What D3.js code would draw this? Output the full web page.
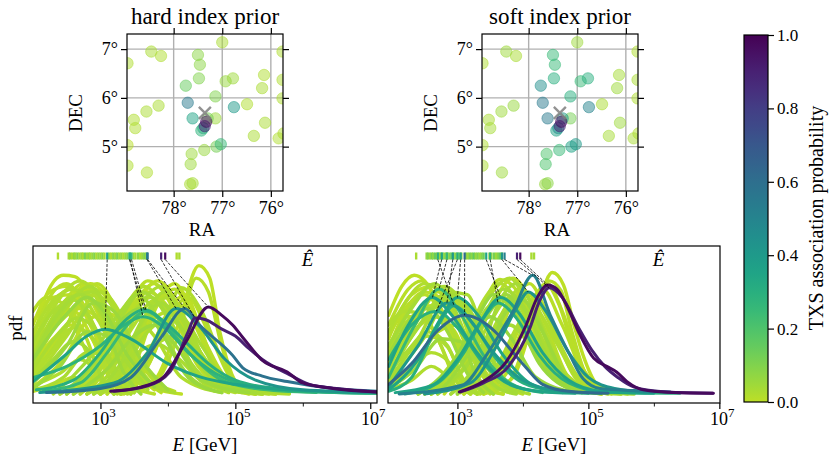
<!DOCTYPE html>
<html>
<head>
<meta charset="utf-8">
<script src="https://cdn.jsdelivr.net/npm/d3@7"></script>
<style>
body { margin: 0; background: #fff; }
svg text { font-family: "Liberation Serif", "DejaVu Serif", serif; fill: #000; }
</style>
</head>
<body>
<svg id="chart" width="832" height="459"></svg>
<script>
// ---- sky maps (RA / DEC in degrees) ----
var raTicks = [78, 77, 76];
var decTicks = [5, 6, 7];
var txsPos = [77.358, 5.693];

var srcRA = [78.95, 78.46, 78.26, 77.50, 77.46, 77.00, 75.76, 77.48, 77.75, 76.93, 76.78,
    76.14, 76.18, 75.76, 77.14, 77.71, 76.76, 76.49, 75.76, 78.31, 78.56, 78.82, 78.79,
    77.61, 77.30, 77.14, 76.12, 76.35, 75.84, 75.74, 78.95, 77.37, 77.12, 77.03, 77.63,
    77.65, 78.95, 78.55, 77.61, 77.66, 77.43, 77.39, 77.36, 77.33];
var srcDec = [6.71, 6.95, 6.86, 6.88, 6.68, 7.14, 6.95, 6.40, 6.25, 6.34, 6.40,
    6.47, 6.20, 6.37, 6.03, 5.90, 5.81, 5.87, 5.99, 5.84, 5.72, 5.55, 5.38,
    5.58, 5.58, 5.58, 5.49, 5.22, 5.17, 5.27, 5.03, 4.93, 5.00, 5.05, 4.85,
    4.64, 4.61, 4.47, 4.25, 4.23, 5.33, 5.38, 5.42, 5.51];
var srcProbHard = [.02, .03, .02, .08, .08, .03, .02, .10, .15, .06, .05,
    .02, .03, .02, .10, .55, .40, .02, .02, .03, .03, .02, .02,
    .35, .12, .05, .03, .03, .02, .02, .01, .06, .12, .25, .05,
    .05, .02, .02, .04, .03, .28, .30, .90, .97];
var srcProbSoft = [.02, .05, .03, .25, .25, .05, .02, .30, .45, .25, .30,
    .04, .05, .03, .30, .55, .50, .03, .02, .06, .05, .03, .04,
    .55, .40, .12, .05, .04, .03, .02, .02, .25, .35, .40, .20,
    .20, .03, .05, .08, .06, .35, .45, .90, .97];

// ---- energy posteriors: points are [log10 E/GeV, pdf] pairs, flattened ----
var energyTicks = [3, 5, 7];
var energyMinor = [4, 6];

// reconstructed energies (log10 GeV) of the low-probability events, shared rug
var bgEhat = [2.37, 2.53, 2.55, 2.58, 2.61, 2.63, 2.66, 2.69, 2.72, 2.74, 2.77, 2.80, 2.83,
    2.85, 2.88, 2.91, 2.94, 2.97, 3.00, 3.03, 3.06, 3.13, 3.16, 3.19, 3.22, 3.25, 3.28,
    3.31, 3.34, 3.37, 3.40, 3.49, 3.52, 3.56, 3.59, 3.62, 3.65, 3.68, 4.13, 4.17];
var bgProbHard = [.02, .04, .06, .03, .08, .05, .10, .04, .07, .03, .12, .05, .08,
    .04, .06, .10, .03, .07, .05, .09, .04, .06, .03, .08, .05, .11, .04,
    .07, .03, .06, .09, .05, .04, .08, .03, .06, .10, .05, .02, .03];
var bgProbSoft = [.03, .06, .10, .05, .12, .08, .15, .06, .10, .05, .18, .08, .12,
    .06, .10, .15, .05, .10, .08, .14, .06, .10, .05, .12, .08, .16, .06,
    .10, .05, .09, .13, .08, .06, .12, .05, .09, .15, .08, .03, .04];

var hardBgCurves = [
    {p: 0, pts: [2.0, .38, 2.2, .72, 2.45, .86, 2.62, .85, 3.0, .55, 3.4, .2, 3.8, .04, 4.2, 0]},
    {p: .01, pts: [2.0, .30, 2.4, .62, 2.75, .80, 3.1, .55, 3.5, .18, 3.9, .02]},
    {p: .03, pts: [2.0, .22, 2.45, .6, 2.85, .78, 3.2, .52, 3.6, .15, 4.0, .02]},
    {p: .01, pts: [2.0, .15, 2.5, .5, 2.95, .80, 3.3, .55, 3.7, .15, 4.1, .02]},
    {p: .02, pts: [2.0, .45, 2.3, .68, 2.6, .76, 2.95, .55, 3.3, .22, 3.7, .03]},
    {p: .05, pts: [2.0, .08, 2.5, .35, 2.9, .66, 3.2, .6, 3.6, .25, 4.0, .03]},
    {p: 0, pts: [2.0, .52, 2.3, .7, 2.55, .72, 2.9, .45, 3.2, .15, 3.5, .02]},
    {p: .02, pts: [2.0, .12, 2.4, .4, 2.8, .72, 3.1, .68, 3.5, .3, 3.9, .05]},
    {p: .06, pts: [2.0, .25, 2.5, .58, 2.8, .7, 3.05, .6, 3.4, .28, 3.8, .05]},
    {p: .01, pts: [2.0, .05, 2.45, .25, 2.85, .55, 3.15, .58, 3.5, .3, 3.9, .04]},
    {p: .03, pts: [2.0, .18, 2.35, .42, 2.65, .55, 2.95, .45, 3.25, .15, 3.5, .01]},
    {p: 0, pts: [2.0, .35, 2.35, .55, 2.6, .6, 2.9, .38, 3.15, .1, 3.35, 0]},
    {p: .04, pts: [2.0, .10, 2.3, .25, 2.6, .38, 2.85, .3, 3.05, .08, 3.2, 0]},
    {p: .02, pts: [2.0, .06, 2.4, .15, 2.7, .25, 2.95, .15, 3.1, .02]},
    {p: .01, pts: [2.0, .60, 2.2, .7, 2.45, .65, 2.7, .4, 3.0, .1, 3.2, 0]},
    {p: .03, pts: [2.0, .28, 2.55, .7, 2.9, .74, 3.3, .42, 3.7, .1, 4.1, .01]},
    {p: 0, pts: [2.0, .02, 2.3, .06, 2.6, .12, 2.8, .06, 3.0, 0]},
    {p: .01, pts: [2.0, .42, 2.3, .74, 2.5, .8, 2.8, .6, 3.1, .28, 3.5, .05, 3.8, 0]},
    {p: .02, pts: [2.0, .33, 2.35, .66, 2.7, .82, 3.0, .66, 3.3, .3, 3.7, .04]},
    {p: 0, pts: [2.0, .20, 2.4, .55, 2.8, .75, 3.05, .66, 3.4, .25, 3.8, .03]},
    {p: .04, pts: [2.0, .26, 2.4, .6, 2.7, .72, 3.0, .6, 3.3, .3, 3.7, .05]},
    {p: .01, pts: [2.0, .14, 2.45, .45, 2.9, .76, 3.2, .62, 3.5, .25, 3.9, .02]},
    {p: 0, pts: [2.0, .50, 2.25, .74, 2.5, .78, 2.8, .58, 3.1, .22, 3.4, .02]},
    {p: .02, pts: [2.0, .09, 2.5, .42, 3.0, .74, 3.25, .62, 3.55, .22, 3.9, .02]},
    {p: .03, pts: [2.0, .38, 2.3, .6, 2.6, .68, 2.9, .5, 3.2, .18, 3.5, .01]},
    {p: .01, pts: [2.0, .30, 2.35, .5, 2.7, .62, 3.0, .52, 3.3, .2, 3.6, .02]},
    {p: .05, pts: [2.0, .04, 2.4, .2, 2.8, .45, 3.1, .42, 3.35, .15, 3.6, 0]},
    {p: .02, pts: [2.0, .16, 2.3, .32, 2.6, .48, 2.9, .4, 3.15, .12, 3.4, 0]},
    {p: 0, pts: [2.0, .22, 2.3, .4, 2.55, .5, 2.85, .42, 3.1, .15, 3.3, 0]},
    {p: .01, pts: [2.0, .45, 2.3, .6, 2.5, .62, 2.75, .45, 3.0, .15, 3.25, 0]},
    {p: .03, pts: [2.0, .03, 2.45, .12, 2.8, .3, 3.05, .28, 3.25, .08, 3.45, 0]},
    {p: 0, pts: [2.0, .20, 2.5, .66, 2.85, .8, 3.15, .66, 3.5, .22, 3.9, .01]},
    {p: .02, pts: [2.0, .36, 2.25, .62, 2.55, .76, 2.9, .66, 3.25, .3, 3.7, .03]},
    {p: .01, pts: [2.6, 0, 3.0, .2, 3.4, .6, 3.7, .82, 4.0, .7, 4.4, .25, 4.9, .03, 5.3, 0]},
    {p: 0, pts: [2.5, 0, 3.0, .25, 3.45, .62, 3.8, .8, 4.1, .6, 4.5, .2, 5.0, .02, 5.6, 0]},
    {p: .03, pts: [2.8, 0, 3.2, .2, 3.6, .65, 3.9, .78, 4.2, .55, 4.6, .15, 5.1, .01]},
    {p: .04, pts: [2.4, 0, 2.9, .22, 3.3, .55, 3.6, .74, 3.95, .6, 4.35, .22, 4.9, .02]},
    {p: .01, pts: [3.2, 0, 3.5, .2, 3.85, .65, 4.1, .76, 4.4, .5, 4.8, .1, 5.3, 0]},
    {p: .02, pts: [2.7, 0, 3.1, .18, 3.5, .5, 3.8, .68, 4.1, .55, 4.5, .2, 5.0, .02, 5.8, 0]},
    {p: .06, pts: [2.5, 0, 3.0, .3, 3.35, .55, 3.6, .62, 3.9, .45, 4.3, .12, 4.8, .01]},
    {p: .02, pts: [3.0, 0, 3.4, .25, 3.75, .6, 4.0, .7, 4.3, .48, 4.7, .12, 5.2, .01]},
    {p: .03, pts: [2.9, 0, 3.3, .15, 3.7, .45, 4.0, .55, 4.3, .42, 4.8, .12, 5.6, .01]},
    {p: 0, pts: [3.45, 0, 3.8, .3, 4.05, .62, 4.25, .72, 4.5, .45, 4.8, .1, 5.2, 0]},
    {p: .04, pts: [2.3, 0, 2.9, .3, 3.3, .6, 3.55, .72, 3.85, .55, 4.2, .2, 4.7, .02]},
    {p: .01, pts: [3.1, 0, 3.5, .3, 3.8, .55, 4.05, .6, 4.35, .4, 4.8, .1, 5.5, .01]},
    {p: .03, pts: [3.3, 0, 3.7, .25, 4.0, .5, 4.2, .55, 4.5, .35, 4.9, .08, 5.8, .01]},
    {p: .02, pts: [2.6, 0, 3.05, .3, 3.4, .66, 3.65, .78, 3.95, .62, 4.35, .2, 4.9, .01]},
    {p: 0, pts: [2.8, 0, 3.2, .28, 3.55, .66, 3.85, .82, 4.15, .64, 4.5, .22, 5.0, .02]},
    {p: .01, pts: [2.5, 0, 2.95, .2, 3.35, .5, 3.7, .74, 4.05, .6, 4.45, .2, 5.0, .02]},
    {p: .03, pts: [3.0, 0, 3.35, .22, 3.7, .6, 3.95, .74, 4.25, .55, 4.65, .15, 5.2, .01]},
    {p: .02, pts: [2.7, 0, 3.15, .28, 3.5, .6, 3.75, .7, 4.05, .5, 4.45, .14, 5.0, .01]},
    {p: 0, pts: [3.1, 0, 3.5, .3, 3.85, .68, 4.1, .8, 4.4, .55, 4.8, .12, 5.3, 0]},
    {p: .04, pts: [2.9, 0, 3.3, .22, 3.65, .56, 3.9, .66, 4.2, .48, 4.6, .14, 5.3, .01]},
    {p: .02, pts: [2.4, 0, 2.9, .2, 3.25, .45, 3.5, .55, 3.8, .42, 4.2, .12, 4.8, .01]},
    {p: .01, pts: [3.2, 0, 3.6, .2, 3.95, .52, 4.2, .64, 4.5, .42, 4.9, .1, 5.6, .01]},
    {p: .05, pts: [2.6, 0, 3.1, .18, 3.5, .42, 3.8, .5, 4.1, .36, 4.5, .1, 5.2, .01]},
    {p: .02, pts: [3.0, 0, 3.4, .12, 3.8, .35, 4.1, .42, 4.4, .3, 4.9, .08, 5.8, .005]},
    {p: .03, pts: [2.8, 0, 3.2, .12, 3.55, .3, 3.85, .36, 4.15, .26, 4.6, .06, 5.4, 0]},
    {p: .01, pts: [3.3, 0, 3.7, .2, 4.05, .58, 4.3, .7, 4.6, .45, 5.0, .08, 5.6, 0]},
    {p: 0, pts: [3.3, 0, 3.8, .1, 4.15, .5, 4.46, .93, 4.62, .84, 4.77, .45, 4.95, .14, 5.15, .02, 5.4, 0]},
    {p: .01, pts: [3.3, 0, 3.8, .08, 4.15, .42, 4.42, .84, 4.6, .74, 4.77, .4, 4.95, .12, 5.15, .02, 5.4, 0]},
    {p: .02, pts: [3.2, 0, 3.6, .15, 3.95, .55, 4.2, .77, 4.5, .6, 4.8, .25, 5.1, .05, 5.5, 0]}
];

var hardHiCurves = [
    {e: 3.10, p: .35, pts: [2.0, .09, 2.45, .27, 2.8, .42, 3.07, .47, 3.45, .40, 4.0, .22, 4.5, .12, 5.0, .07, 5.8, .03, 7.1, .01]},
    {e: 3.43, p: .30, pts: [2.05, .03, 2.6, .1, 3.0, .3, 3.3, .5, 3.65, .61, 4.0, .5, 4.3, .36, 4.6, .22, 5.0, .1, 5.6, .04, 6.5, .01, 7.1, .005]},
    {e: 3.44, p: .28, pts: [2.0, .12, 2.5, .2, 3.0, .35, 3.35, .5, 3.63, .56, 3.95, .48, 4.3, .3, 4.7, .15, 5.2, .06, 6.0, .02, 7.1, .005]},
    {e: 3.46, p: .25, pts: [2.15, .02, 2.7, .08, 3.1, .3, 3.4, .5, 3.68, .60, 4.0, .48, 4.35, .28, 4.8, .1, 5.3, .04, 6.2, .01]},
    {e: 3.69, p: .42, pts: [2.1, .01, 3.2, .08, 3.7, .3, 4.12, .62, 4.45, .5, 4.85, .25, 5.3, .1, 6.0, .03, 7.1, .01]},
    {e: 3.70, p: .58, pts: [2.2, .01, 3.0, .04, 3.45, .12, 3.9, .41, 4.25, .62, 4.47, .5, 4.96, .28, 5.11, .19, 5.4, .13, 5.77, .09, 6.45, .04, 7.1, .02]},
    {e: 3.90, p: .90, pts: [3.2, .02, 3.7, .06, 4.03, .16, 4.3, .45, 4.4, .55, 4.55, .54, 4.8, .47, 5.0, .42, 5.2, .33, 5.4, .25, 5.8, .14, 6.1, .07, 6.5, .04, 7.1, .015]},
    {e: 3.96, p: .97, pts: [3.15, .02, 3.6, .05, 3.93, .12, 4.27, .38, 4.6, .63, 4.8, .57, 4.96, .5, 5.11, .41, 5.41, .24, 5.77, .16, 6.0, .08, 6.45, .04, 7.1, .015]}
];

var softBgCurves = [
    {p: 0, pts: [1.95, .57, 2.15, .78, 2.34, .86, 2.5, .82, 2.8, .55, 3.1, .25, 3.4, .06, 3.7, 0]},
    {p: .02, pts: [1.95, .45, 2.2, .66, 2.5, .8, 2.8, .7, 3.1, .4, 3.4, .12, 3.8, .01]},
    {p: .04, pts: [1.95, .35, 2.3, .62, 2.65, .8, 2.95, .62, 3.25, .28, 3.6, .05, 3.9, 0]},
    {p: .01, pts: [1.95, .20, 2.35, .5, 2.75, .76, 3.05, .66, 3.35, .3, 3.7, .06, 4.0, 0]},
    {p: .03, pts: [1.95, .10, 2.4, .4, 2.85, .74, 3.15, .72, 3.45, .35, 3.8, .06, 4.1, 0]},
    {p: .05, pts: [1.95, .28, 2.3, .55, 2.55, .62, 2.85, .45, 3.15, .15, 3.4, .01]},
    {p: .01, pts: [1.95, .06, 2.35, .22, 2.7, .45, 3.0, .5, 3.3, .25, 3.6, .03]},
    {p: .03, pts: [1.95, .15, 2.25, .32, 2.55, .45, 2.85, .35, 3.1, .08, 3.3, 0]},
    {p: .02, pts: [1.95, .03, 2.3, .1, 2.6, .2, 2.85, .12, 3.05, .01]},
    {p: 0, pts: [1.95, .40, 2.3, .72, 2.6, .78, 2.95, .58, 3.3, .2, 3.6, .02]},
    {p: .02, pts: [1.95, .50, 2.2, .6, 2.45, .58, 2.75, .35, 3.0, .08, 3.2, 0]},
    {p: .04, pts: [1.95, .12, 2.5, .55, 2.95, .72, 3.25, .55, 3.6, .18, 4.0, .02]},
    {p: .01, pts: [1.95, .50, 2.25, .76, 2.45, .82, 2.75, .62, 3.05, .28, 3.4, .04, 3.7, 0]},
    {p: .02, pts: [1.95, .30, 2.3, .64, 2.6, .78, 2.9, .64, 3.2, .3, 3.6, .03]},
    {p: 0, pts: [1.95, .22, 2.35, .55, 2.7, .74, 3.0, .64, 3.3, .26, 3.7, .03]},
    {p: .03, pts: [1.95, .16, 2.4, .48, 2.8, .72, 3.1, .6, 3.4, .24, 3.8, .02]},
    {p: .01, pts: [1.95, .42, 2.25, .65, 2.5, .72, 2.8, .54, 3.1, .2, 3.4, .01]},
    {p: .04, pts: [1.95, .08, 2.45, .38, 2.9, .7, 3.2, .6, 3.5, .22, 3.9, .01]},
    {p: .02, pts: [1.95, .36, 2.3, .56, 2.6, .64, 2.9, .48, 3.2, .16, 3.5, 0]},
    {p: .01, pts: [1.95, .26, 2.3, .44, 2.65, .56, 2.95, .46, 3.25, .16, 3.55, 0]},
    {p: .05, pts: [1.95, .04, 2.35, .18, 2.75, .4, 3.05, .38, 3.3, .12, 3.55, 0]},
    {p: .02, pts: [1.95, .18, 2.25, .3, 2.55, .42, 2.85, .34, 3.1, .1, 3.35, 0]},
    {p: 0, pts: [1.95, .46, 2.2, .56, 2.45, .56, 2.7, .4, 2.95, .12, 3.2, 0]},
    {p: .03, pts: [1.95, .20, 2.45, .62, 2.8, .78, 3.1, .64, 3.45, .22, 3.85, .01]},
    {p: .01, pts: [1.95, .32, 2.2, .6, 2.5, .74, 2.85, .64, 3.2, .28, 3.6, .02]},
    {p: .02, pts: [1.95, .10, 2.3, .2, 2.6, .3, 2.85, .24, 3.1, .06, 3.3, 0]},
    {p: .01, pts: [2.6, 0, 3.0, .22, 3.35, .6, 3.65, .83, 3.95, .72, 4.3, .3, 4.8, .04, 5.2, 0]},
    {p: .02, pts: [2.5, 0, 2.95, .25, 3.4, .65, 3.8, .84, 4.1, .62, 4.45, .22, 4.9, .02, 5.5, 0]},
    {p: .04, pts: [2.9, 0, 3.3, .22, 3.65, .68, 3.9, .8, 4.2, .58, 4.55, .18, 5.0, .01]},
    {p: .06, pts: [2.4, 0, 2.9, .2, 3.3, .55, 3.55, .72, 3.85, .6, 4.25, .22, 4.8, .02]},
    {p: .01, pts: [3.1, 0, 3.5, .25, 3.8, .62, 4.05, .74, 4.35, .5, 4.7, .12, 5.2, 0]},
    {p: .03, pts: [2.7, 0, 3.1, .18, 3.5, .52, 3.8, .7, 4.1, .55, 4.5, .18, 5.0, .01, 5.7, 0]},
    {p: .05, pts: [3.0, 0, 3.4, .25, 3.75, .6, 4.0, .68, 4.3, .45, 4.7, .1, 5.3, .01]},
    {p: .02, pts: [3.3, 0, 3.7, .25, 4.0, .55, 4.2, .6, 4.5, .38, 4.9, .08, 5.6, .01]},
    {p: .03, pts: [2.6, 0, 3.1, .3, 3.45, .62, 3.7, .7, 4.0, .5, 4.4, .15, 4.9, .01]},
    {p: .02, pts: [2.6, 0, 3.05, .3, 3.4, .68, 3.65, .8, 3.95, .64, 4.35, .2, 4.9, .01]},
    {p: 0, pts: [2.8, 0, 3.2, .28, 3.55, .66, 3.85, .84, 4.15, .64, 4.5, .22, 5.0, .02]},
    {p: .04, pts: [2.5, 0, 2.95, .2, 3.35, .52, 3.7, .76, 4.05, .6, 4.45, .2, 5.0, .02]},
    {p: .02, pts: [3.0, 0, 3.35, .22, 3.7, .6, 3.95, .76, 4.25, .55, 4.65, .15, 5.2, .01]},
    {p: .05, pts: [2.7, 0, 3.15, .28, 3.5, .6, 3.75, .72, 4.05, .5, 4.45, .14, 5.0, .01]},
    {p: .01, pts: [3.1, 0, 3.5, .3, 3.85, .68, 4.1, .8, 4.4, .55, 4.8, .12, 5.3, 0]},
    {p: .03, pts: [2.9, 0, 3.3, .22, 3.65, .56, 3.9, .68, 4.2, .48, 4.6, .14, 5.3, .01]},
    {p: .06, pts: [2.4, 0, 2.9, .2, 3.25, .45, 3.5, .56, 3.8, .42, 4.2, .12, 4.8, .01]},
    {p: .02, pts: [3.2, 0, 3.6, .2, 3.95, .52, 4.2, .66, 4.5, .42, 4.9, .1, 5.6, .01]},
    {p: .04, pts: [2.6, 0, 3.1, .18, 3.5, .42, 3.8, .5, 4.1, .36, 4.5, .1, 5.2, .01]},
    {p: .01, pts: [3.3, 0, 3.7, .2, 4.05, .6, 4.3, .76, 4.6, .5, 5.0, .1, 5.6, 0]},
    {p: 0, pts: [3.4, 0, 3.8, .25, 4.15, .66, 4.38, .8, 4.6, .6, 4.9, .2, 5.3, .02]},
    {p: 0, pts: [3.4, 0, 3.85, .12, 4.2, .6, 4.45, .88, 4.62, .79, 4.78, .5, 4.92, .28, 5.13, .065, 5.35, 0]},
    {p: .01, pts: [3.3, 0, 3.8, .1, 4.15, .55, 4.4, .82, 4.58, .75, 4.75, .45, 4.95, .15, 5.2, .02]},
    {p: .01, pts: [3.3, 0, 3.75, .15, 4.1, .6, 4.35, .8, 4.55, .65, 4.8, .28, 5.1, .05, 5.5, 0]}
];

var softHiCurves = [
    {e: 2.70, p: .30, pts: [1.95, .02, 2.3, .12, 2.65, .45, 2.95, .64, 3.25, .5, 3.6, .25, 4.0, .08, 4.5, .02, 5.0, .005]},
    {e: 2.76, p: .35, pts: [1.95, .2, 2.25, .5, 2.62, .70, 2.9, .58, 3.3, .3, 3.7, .1, 4.2, .02, 4.8, .005]},
    {e: 2.84, p: .25, pts: [1.95, .12, 2.35, .5, 2.72, .76, 3.0, .62, 3.4, .28, 3.8, .08, 4.3, .01]},
    {e: 2.93, p: .40, pts: [1.95, .05, 2.4, .35, 2.84, .66, 3.15, .56, 3.55, .3, 4.0, .1, 4.6, .02, 5.2, .005]},
    {e: 3.00, p: .30, pts: [1.95, .25, 2.3, .5, 2.68, .60, 3.0, .48, 3.4, .22, 3.9, .05, 4.5, .01]},
    {e: 3.05, p: .35, pts: [1.95, .03, 2.4, .25, 2.75, .55, 3.0, .70, 3.3, .58, 3.7, .28, 4.1, .08, 4.6, .01]},
    {e: 3.11, p: .62, pts: [1.95, .07, 2.3, .22, 2.7, .46, 3.11, .57, 3.4, .52, 3.6, .44, 3.85, .3, 4.05, .19, 4.3, .07, 4.7, .02, 5.3, .005]},
    {e: 3.44, p: .35, pts: [2.05, .01, 2.6, .06, 3.0, .25, 3.35, .52, 3.66, .70, 3.95, .58, 4.3, .3, 4.7, .1, 5.2, .02, 6.0, .005]},
    {e: 3.50, p: .30, pts: [2.2, 0, 2.7, .08, 3.1, .3, 3.4, .55, 3.62, .66, 3.9, .55, 4.25, .28, 4.7, .08, 5.3, .01, 6.4, .005]},
    {e: 3.68, p: .42, pts: [2.5, 0, 3.2, .08, 3.6, .35, 3.9, .62, 4.08, .74, 4.35, .6, 4.7, .3, 5.0, .12, 5.4, .04, 6.0, .01]},
    {e: 3.72, p: .52, pts: [2.11, 0, 3.08, .065, 3.44, .28, 3.85, .6, 4.15, .86, 4.42, .57, 4.72, .28, 4.92, .11, 5.18, .04, 5.7, .025, 6.25, .015]},
    {e: 3.91, p: .90, pts: [3.05, .015, 3.4, .08, 3.78, .2, 4.1, .47, 4.26, .68, 4.4, .77, 4.6, .7, 4.85, .48, 5.05, .32, 5.25, .2, 5.45, .12, 5.7, .05, 6.2, .015, 6.9, .005]},
    {e: 3.96, p: .97, pts: [3.03, .015, 3.39, .09, 3.74, .23, 4.05, .5, 4.22, .7, 4.38, .79, 4.52, .76, 4.67, .64, 4.87, .43, 5.08, .26, 5.28, .2, 5.43, .16, 5.59, .09, 5.84, .03, 6.3, .01, 6.91, .005]}
];

var cbarTicks = [0, 0.2, 0.4, 0.6, 0.8, 1.0];

// ---------------------------------------------------------------
var svg = d3.select("#chart");
var defs = svg.append("defs");

function color(p) {
    return d3.interpolateViridis(0.9 * (1 - p));
}

function pairs(flat) {
    var out = [];
    for (var i = 0; i < flat.length; i += 2) out.push([flat[i], flat[i + 1]]);
    return out;
}

var skyTop = 34, skyBottom = 191, skyWidth = 156;

function skyPanel(x0, id, title, probs) {
    var ra = d3.scaleLinear().domain([78.96, 75.75]).range([x0, x0 + skyWidth]);
    var dec = d3.scaleLinear().domain([4.09, 7.31]).range([skyBottom, skyTop]);
    var g = svg.append("g");

    defs.append("clipPath").attr("id", id)
        .append("rect")
        .attr("x", x0).attr("y", skyTop)
        .attr("width", skyWidth).attr("height", skyBottom - skyTop);

    var inner = g.append("g").attr("clip-path", "url(#" + id + ")");

    inner.selectAll(".gx")
        .data(raTicks)
        .enter().append("line")
        .attr("x1", function(d) { return ra(d); })
        .attr("x2", function(d) { return ra(d); })
        .attr("y1", skyTop).attr("y2", skyBottom)
        .style("stroke", "#b0b0b0").style("stroke-width", 1.4);
    inner.selectAll(".gy")
        .data(decTicks)
        .enter().append("line")
        .attr("x1", x0).attr("x2", x0 + skyWidth)
        .attr("y1", function(d) { return dec(d); })
        .attr("y2", function(d) { return dec(d); })
        .style("stroke", "#b0b0b0").style("stroke-width", 1.4);

    var idx = d3.range(srcRA.length).sort(function(a, b) { return probs[a] - probs[b]; });
    inner.selectAll(".src")
        .data(idx)
        .enter().append("circle")
        .attr("cx", function(i) { return ra(srcRA[i]); })
        .attr("cy", function(i) { return dec(srcDec[i]); })
        .attr("r", 5.7)
        .style("fill", function(i) { return color(probs[i]); })
        .style("fill-opacity", 0.5)
        .style("stroke", function(i) { return color(probs[i]); })
        .style("stroke-opacity", 0.5)
        .style("stroke-width", 1);

    var cx = ra(txsPos[0]), cy = dec(txsPos[1]), s = 6;
    inner.append("path")
        .attr("d", "M" + (cx - s) + "," + (cy - s) + "L" + (cx + s) + "," + (cy + s) +
            "M" + (cx - s) + "," + (cy + s) + "L" + (cx + s) + "," + (cy - s))
        .style("stroke", "#7f7f7f").style("stroke-width", 2.4)
        .style("stroke-opacity", 0.85);

    g.append("rect")
        .attr("x", x0).attr("y", skyTop)
        .attr("width", skyWidth).attr("height", skyBottom - skyTop)
        .style("fill", "none").style("stroke", "#000").style("stroke-width", 1.2);

    var xb = d3.axisBottom(ra).tickValues(raTicks).tickSize(6).tickSizeOuter(0).tickPadding(4)
        .tickFormat(function(d) { return d + "°"; });
    var xt = d3.axisTop(ra).tickValues(raTicks).tickSize(6).tickSizeOuter(0).tickFormat("");
    var yl = d3.axisLeft(dec).tickValues(decTicks).tickSize(6).tickSizeOuter(0).tickPadding(3)
        .tickFormat(function(d) { return d + "°"; });
    var yr = d3.axisRight(dec).tickValues(decTicks).tickSize(6).tickSizeOuter(0).tickFormat("");

    [[xb, "translate(0," + skyBottom + ")"], [xt, "translate(0," + skyTop + ")"],
        [yl, "translate(" + x0 + ",0)"], [yr, "translate(" + (x0 + skyWidth) + ",0)"]]
    .forEach(function(a) {
        var ax = g.append("g").attr("transform", a[1]).call(a[0]);
        ax.select(".domain").remove();
        ax.selectAll("line").style("stroke", "#000").style("stroke-width", 1.2);
        ax.selectAll("text").style("font-size", "18px")
            .style("font-family", "'Liberation Serif', serif");
    });

    g.append("text")
        .attr("x", x0 + skyWidth / 2).attr("y", 24)
        .attr("text-anchor", "middle")
        .style("font-size", "23px")
        .text(title);
    g.append("text")
        .attr("x", x0 + skyWidth / 2 - 3).attr("y", 236)
        .attr("text-anchor", "middle")
        .style("font-size", "19px")
        .text("RA");
    g.append("text")
        .attr("transform", "translate(" + (x0 - 45) + "," + 113 + ") rotate(-90)")
        .attr("text-anchor", "middle")
        .style("font-size", "19px")
        .text("DEC");
}

skyPanel(127, "clipHard", "hard index prior", srcProbHard);
skyPanel(482, "clipSoft", "soft index prior", srcProbSoft);

// ---- energy panels ----
var pdfTop = 246, pdfBottom = 403;

function pdfPanel(left, right, dom, id, bgCurves, hiCurves, bgProb) {
    var x = d3.scaleLog()
        .domain([Math.pow(10, dom[0]), Math.pow(10, dom[1])])
        .range([left, right]);
    var y = d3.scaleLinear().domain([0, 1]).range([394, 256]);
    var line = d3.line()
        .x(function(d) { return x(Math.pow(10, d[0])); })
        .y(function(d) { return y(d[1]); })
        .curve(d3.curveMonotoneX);
    var g = svg.append("g");

    defs.append("clipPath").attr("id", id)
        .append("rect")
        .attr("x", left).attr("y", pdfTop)
        .attr("width", right - left).attr("height", pdfBottom - pdfTop);
    var inner = g.append("g").attr("clip-path", "url(#" + id + ")");

    // faint background posteriors first, associated events on top
    inner.selectAll(".pdfBg")
        .data(bgCurves.slice().sort(function(a, b) { return a.p - b.p; }))
        .enter().append("path")
        .attr("d", function(d) { return line(pairs(d.pts)); })
        .style("fill", "none")
        .style("stroke", function(d) { return color(d.p); })
        .style("stroke-width", 3.4)
        .style("stroke-linejoin", "round")
        .style("stroke-linecap", "round");

    var hi = hiCurves.slice().sort(function(a, b) { return a.p - b.p; });
    inner.selectAll(".pdfHi")
        .data(hi)
        .enter().append("path")
        .attr("d", function(d) { return line(pairs(d.pts)); })
        .style("fill", "none")
        .style("stroke", function(d) { return color(d.p); })
        .style("stroke-width", 3)
        .style("stroke-linejoin", "round")
        .style("stroke-linecap", "round");

    // rug of reconstructed energies
    inner.selectAll(".rugBg")
        .data(bgEhat)
        .enter().append("line")
        .attr("x1", function(d) { return x(Math.pow(10, d)); })
        .attr("x2", function(d) { return x(Math.pow(10, d)); })
        .attr("y1", y(1) - 3.5).attr("y2", y(1) + 3.5)
        .style("stroke", function(d, i) { return color(bgProb[i]); })
        .style("stroke-width", 2.4);

    inner.selectAll(".rugHi")
        .data(hi)
        .enter().append("line")
        .attr("x1", function(d) { return x(Math.pow(10, d.e)); })
        .attr("x2", function(d) { return x(Math.pow(10, d.e)); })
        .attr("y1", y(1) - 3.5).attr("y2", y(1) + 3.5)
        .style("stroke", function(d) { return color(d.p); })
        .style("stroke-width", 2.2);

    inner.selectAll(".link")
        .data(hi)
        .enter().append("line")
        .attr("x1", function(d) { return x(Math.pow(10, d.e)); })
        .attr("y1", y(1) + 3.5)
        .attr("x2", function(d) {
            var pk = d3.greatest(pairs(d.pts), function(q) { return q[1]; });
            return x(Math.pow(10, pk[0]));
        })
        .attr("y2", function(d) {
            var pk = d3.greatest(pairs(d.pts), function(q) { return q[1]; });
            return y(pk[1]);
        })
        .style("stroke", "#000")
        .style("stroke-width", 0.8)
        .style("stroke-dasharray", "3,1.5");

    g.append("rect")
        .attr("x", left).attr("y", pdfTop)
        .attr("width", right - left).attr("height", pdfBottom - pdfTop)
        .style("fill", "none").style("stroke", "#000").style("stroke-width", 1.2);

    var ax = g.append("g")
        .attr("transform", "translate(0," + pdfBottom + ")")
        .call(d3.axisBottom(x)
            .tickValues(energyTicks.map(function(d) { return Math.pow(10, d); }))
            .tickSize(6).tickSizeOuter(0).tickFormat(""));
    ax.select(".domain").remove();
    ax.selectAll("line").style("stroke", "#000").style("stroke-width", 1.2);
    var axm = g.append("g")
        .attr("transform", "translate(0," + pdfBottom + ")")
        .call(d3.axisBottom(x)
            .tickValues(energyMinor.map(function(d) { return Math.pow(10, d); }))
            .tickSize(3.5).tickSizeOuter(0).tickFormat(""));
    axm.select(".domain").remove();
    axm.selectAll("line").style("stroke", "#000").style("stroke-width", 0.9);

    energyTicks.forEach(function(t) {
        var lab = g.append("text")
            .attr("x", x(Math.pow(10, t)) + 3).attr("y", 425)
            .attr("text-anchor", "middle")
            .style("font-size", "18px");
        lab.append("tspan").text("10");
        lab.append("tspan").attr("dy", -8).style("font-size", "13px").text(t);
    });

    var xl = g.append("text")
        .attr("x", (left + right) / 2).attr("y", 451)
        .attr("text-anchor", "middle")
        .style("font-size", "19px");
    xl.append("tspan").style("font-style", "italic").text("E");
    xl.append("tspan").text(" [GeV]");

    g.append("text")
        .attr("x", x(Math.pow(10, 6.07))).attr("y", 266)
        .attr("text-anchor", "middle")
        .style("font-size", "19px")
        .style("font-style", "italic")
        .text("Ê");
}

pdfPanel(33, 377, [2.0, 7.1], "clipPdfHard", hardBgCurves, hardHiCurves, bgProbHard);
pdfPanel(388, 720, [1.94, 7.01], "clipPdfSoft", softBgCurves, softHiCurves, bgProbSoft);

svg.append("text")
    .attr("transform", "translate(22,328) rotate(-90)")
    .attr("text-anchor", "middle")
    .style("font-size", "19px")
    .text("pdf");

// ---- colour bar ----
var cbLeft = 744, cbRight = 768, cbTop = 35, cbBottom = 402;
var grad = defs.append("linearGradient")
    .attr("id", "cbGrad")
    .attr("x1", 0).attr("y1", 1).attr("x2", 0).attr("y2", 0);
grad.selectAll("stop")
    .data(d3.range(0, 1.0001, 0.05))
    .enter().append("stop")
    .attr("offset", function(d) { return d; })
    .attr("stop-color", function(d) { return color(d); });

svg.append("rect")
    .attr("x", cbLeft).attr("y", cbTop)
    .attr("width", cbRight - cbLeft).attr("height", cbBottom - cbTop)
    .style("fill", "url(#cbGrad)")
    .style("stroke", "#000").style("stroke-width", 1.2);

var cbScale = d3.scaleLinear().domain([0, 1]).range([cbBottom, cbTop]);
var cbAxis = svg.append("g")
    .attr("transform", "translate(" + cbRight + ",0)")
    .call(d3.axisRight(cbScale).tickValues(cbarTicks).tickSize(6).tickSizeOuter(0)
        .tickPadding(3).tickFormat(d3.format(".1f")));
cbAxis.select(".domain").remove();
cbAxis.selectAll("line").style("stroke", "#000").style("stroke-width", 1.2);
cbAxis.selectAll("text").style("font-size", "17px")
    .style("font-family", "'Liberation Serif', serif");

svg.append("text")
    .attr("transform", "translate(823,218) rotate(-90)")
    .attr("text-anchor", "middle")
    .style("font-size", "20px")
    .text("TXS association probability");
</script>
</body>
</html>
